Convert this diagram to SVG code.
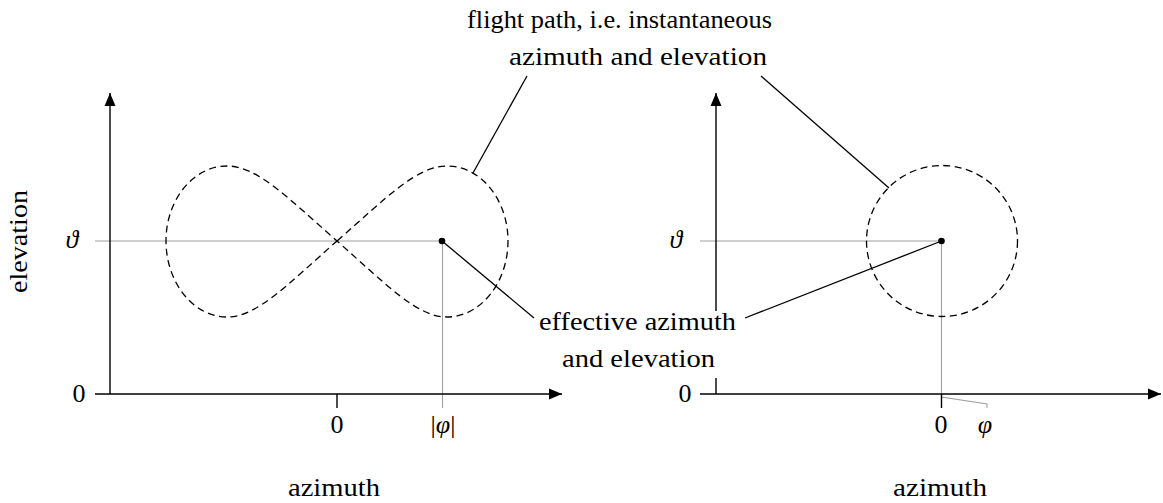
<svg xmlns="http://www.w3.org/2000/svg" width="1163" height="503" viewBox="0 0 1163 503">
<style>
text{font-family:"Liberation Serif","DejaVu Serif",serif;font-size:26px;fill:#000}
.m{font-style:italic}
.axis{stroke:#000;stroke-width:1.4;fill:none}
.grey{stroke:#a0a0a0;stroke-width:1.1;fill:none}
.path{stroke:#000;stroke-width:1.3;fill:none;stroke-dasharray:7 4.5}
.conn{stroke:#000;stroke-width:1.3;fill:none}
</style>
<defs>
<marker id="arr" markerUnits="userSpaceOnUse" markerWidth="14" markerHeight="12" viewBox="0 0 14 12" refX="13" refY="6" orient="auto">
<path d="M0,0.5 L13,6 L0,11.5 z" fill="#000"/>
</marker>
</defs>
<rect width="1163" height="503" fill="#fff"/>

<g id="left-plot">
<line class="grey" x1="95" y1="241" x2="442" y2="241"/>
<line class="grey" x1="442.5" y1="241" x2="442.5" y2="408"/>
<path class="path" d="M337,241 C387,197 417,166 447,166 C480.7,166 508,199.6 508,241 C508,282.4 480.7,317 447,317 C417,317 387,285 337,241 C287,197 257,166 227,166 C193.3,166 166,199.6 166,241 C166,282.4 193.3,317 227,317 C257,317 287,285 337,241 Z"/>
<line class="axis" x1="110" y1="394" x2="110" y2="93" marker-end="url(#arr)"/>
<line class="axis" x1="95" y1="394" x2="562" y2="394" marker-end="url(#arr)"/>
<line class="axis" x1="337" y1="394" x2="337" y2="408"/>
<circle cx="442" cy="241" r="3.3" fill="#000"/>
<text x="72" y="248" text-anchor="middle" class="m">ϑ</text>
<text x="79" y="402" text-anchor="middle">0</text>
<text x="337" y="433" text-anchor="middle">0</text>
<text x="443" y="433" text-anchor="middle">|<tspan class="m">φ</tspan>|</text>
<text x="334" y="496" text-anchor="middle" textLength="92" lengthAdjust="spacingAndGlyphs">azimuth</text>
<text transform="translate(27,241.5) rotate(-90)" text-anchor="middle" textLength="103" lengthAdjust="spacingAndGlyphs">elevation</text>
</g>

<g id="right-plot">
<line class="grey" x1="700" y1="241" x2="941" y2="241"/>
<polyline class="grey" points="941.5,241 941.5,397 987,404 987,408"/>
<circle class="path" cx="942" cy="241" r="75.5"/>
<line class="axis" x1="716" y1="394" x2="716" y2="93" marker-end="url(#arr)"/>
<line class="axis" x1="700" y1="394" x2="1161" y2="394" marker-end="url(#arr)"/>
<line class="axis" x1="941.5" y1="394" x2="941.5" y2="408"/>
<circle cx="941.5" cy="241" r="3.3" fill="#000"/>
<text x="676" y="248" text-anchor="middle" class="m">ϑ</text>
<text x="685" y="402" text-anchor="middle">0</text>
<text x="941" y="433" text-anchor="middle">0</text>
<text x="985" y="433" text-anchor="middle" class="m">φ</text>
<text x="940" y="496" text-anchor="middle" textLength="94" lengthAdjust="spacingAndGlyphs">azimuth</text>
</g>

<g id="connectors">
<line class="conn" x1="527" y1="76" x2="473" y2="173"/>
<line class="conn" x1="761" y1="76" x2="889" y2="188"/>
<line class="conn" x1="442" y1="241" x2="534" y2="318"/>
<line class="conn" x1="745" y1="318" x2="941.5" y2="241"/>
</g>

<g id="label-flight-path">
<text x="619.5" y="28" text-anchor="middle" textLength="305" lengthAdjust="spacingAndGlyphs">flight path, i.e. instantaneous</text>
<text x="638" y="65" text-anchor="middle" textLength="258" lengthAdjust="spacingAndGlyphs">azimuth and elevation</text>
</g>

<g id="label-effective">
<rect x="536" y="311" width="209" height="67" fill="#fff"/>
<text x="637.5" y="330" text-anchor="middle" textLength="197" lengthAdjust="spacingAndGlyphs">effective azimuth</text>
<text x="638.5" y="367" text-anchor="middle" textLength="153" lengthAdjust="spacingAndGlyphs">and elevation</text>
</g>
</svg>
